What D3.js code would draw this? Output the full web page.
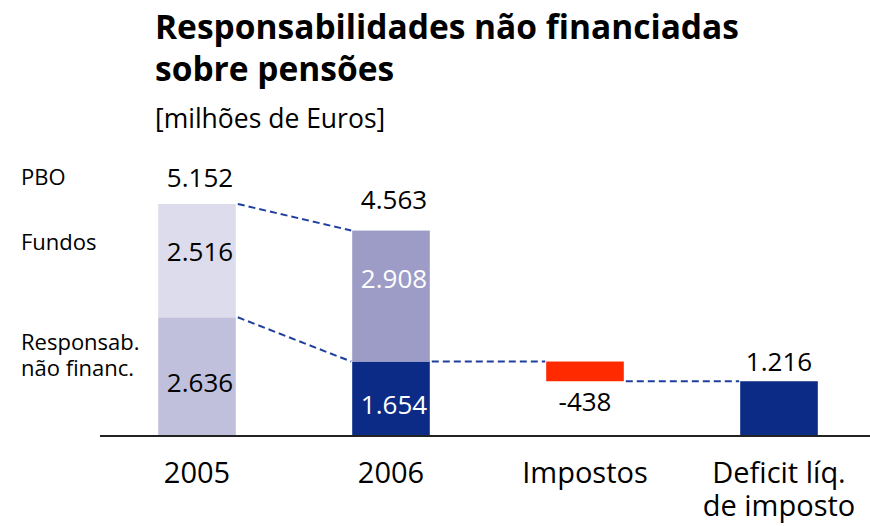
<!DOCTYPE html>
<html>
<head>
<meta charset="utf-8">
<script src="https://cdn.jsdelivr.net/npm/d3@7"></script>
<style>
  body { margin: 0; background: #fff; }
  svg { display: block; font-family: "Open Sans", sans-serif; }
</style>
</head>
<body>
<div id="viz"></div>
<script>
// values in millions of euros
const categories = ["2005", "2006", "Impostos", "Deficit líq.|de imposto"];
const pbo        = [5152, 4563];
const fundos     = [2516, 2908];
const naoFinanc  = [2636, 1654];
const impostos   = -438;
const deficitLiq = 1216;
const legendLabels = ["PBO", "Fundos", "Responsab.|não financ."];

const width = 870, height = 526;
const col = {
  fundos05: "#dcdcec", nf05: "#c0c0dc",
  fundos06: "#9c9cc6", navy: "#0c2b87",
  red: "#ff2a00", dash: "#1f3f9f"
};

const svg = d3.select('#viz').append('svg')
  .attr('width', width).attr('height', height);

const x = d3.scaleBand().domain(categories)
  .range([100, 876]).paddingInner(0.6).paddingOuter(0.3);
const y = d3.scaleLinear().domain([0, pbo[0]]).range([436, 204]);

// bars (waterfall pieces)
const bars = [
  {cat: categories[0], y0: 0, y1: naoFinanc[0], fill: col.nf05},
  {cat: categories[0], y0: naoFinanc[0], y1: naoFinanc[0] + fundos[0], fill: col.fundos05},
  {cat: categories[1], y0: 0, y1: naoFinanc[1], fill: col.navy},
  {cat: categories[1], y0: naoFinanc[1], y1: naoFinanc[1] + fundos[1], fill: col.fundos06},
  {cat: categories[2], y0: naoFinanc[1] + impostos, y1: naoFinanc[1], fill: col.red},
  {cat: categories[3], y0: 0, y1: deficitLiq, fill: col.navy}
];

svg.selectAll('rect.bar').data(bars).enter().append('rect')
  .attr('class', 'bar')
  .attr('x', d => x(d.cat)).attr('width', x.bandwidth())
  .attr('y', d => y(d.y1)).attr('height', d => y(d.y0) - y(d.y1))
  .attr('fill', d => d.fill);

// dashed connectors
const links = [
  {from: categories[0], to: categories[1], v0: pbo[0], v1: pbo[1]},
  {from: categories[0], to: categories[1], v0: naoFinanc[0], v1: naoFinanc[1]},
  {from: categories[1], to: categories[2], v0: naoFinanc[1], v1: naoFinanc[1]},
  {from: categories[2], to: categories[3], v0: deficitLiq, v1: deficitLiq}
];
svg.selectAll('line.link').data(links).enter().append('line')
  .attr('class', 'link')
  .attr('x1', d => x(d.from) + x.bandwidth() + 2).attr('y1', d => y(d.v0))
  .attr('x2', d => x(d.to) - 1).attr('y2', d => y(d.v1))
  .attr('stroke', col.dash).attr('stroke-width', 2)
  .attr('stroke-dasharray', '7,4');

// baseline
svg.append('line')
  .attr('x1', 100).attr('x2', 870).attr('y1', y(0)).attr('y2', y(0))
  .attr('stroke', '#222').attr('stroke-width', 2);

// value labels
const fmt = v => d3.format(',')(v).replace(/,/g, '.').replace('\u2212', '-');
const cx = c => x(c) + x.bandwidth() / 2;
const vlabels = [];
for (let i = 0; i < 2; i++) {
  const c = categories[i];
  vlabels.push({x: cx(c) + 3, y: y(pbo[i]) - (i ? 22 : 17), t: fmt(pbo[i]), fill: '#000'});
  vlabels.push({x: cx(c) + 3, y: y(naoFinanc[i] + fundos[i]) + 57, t: fmt(fundos[i]), fill: i ? '#fff' : '#000'});
  vlabels.push({x: cx(c) + 3, y: (y(0) + y(naoFinanc[i])) / 2 + 15, t: fmt(naoFinanc[i]), fill: i ? '#fff' : '#000'});
}
vlabels.push({x: cx(categories[2]), y: y(naoFinanc[1] + impostos) + 30, t: fmt(impostos), fill: '#000'});
vlabels.push({x: cx(categories[3]), y: y(deficitLiq) - 10, t: fmt(deficitLiq), fill: '#000'});

svg.selectAll('text.val').data(vlabels).enter().append('text')
  .attr('class', 'val')
  .attr('x', d => d.x).attr('y', d => d.y)
  .attr('text-anchor', 'middle')
  .attr('font-size', 26).attr('fill', d => d.fill)
  .text(d => d.t);

// category labels
const catText = svg.selectAll('text.cat').data(categories).enter().append('text')
  .attr('class', 'cat')
  .attr('text-anchor', 'middle').attr('font-size', 29)
  .attr('x', d => cx(d)).attr('y', 483);
catText.selectAll('tspan').data(d => d.split('|').map(s => [d, s])).enter().append('tspan')
  .attr('x', d => cx(d[0])).attr('dy', (d, i) => i ? 33 : 0)
  .text(d => d[1]);

// left legend labels
const legY = [185, 250, 350];
const leg = svg.selectAll('text.leg').data(legendLabels).enter().append('text')
  .attr('class', 'leg').attr('font-size', 22)
  .attr('x', 21).attr('y', (d, i) => legY[i]);
leg.selectAll('tspan').data(d => d.split('|')).enter().append('tspan')
  .attr('x', 21).attr('dy', (d, i) => i ? 26 : 0)
  .text(d => d);

// title
svg.append('text').attr('x', 155).attr('y', 39)
  .attr('font-size', 33.5).attr('font-weight', 'bold')
  .text('Responsabilidades não financiadas');
svg.append('text').attr('x', 155).attr('y', 81)
  .attr('font-size', 33.5).attr('font-weight', 'bold')
  .text('sobre pensões');
svg.append('text').attr('x', 155).attr('y', 128)
  .attr('font-size', 26.5)
  .text('[milhões de Euros]');
</script>
</body>
</html>
